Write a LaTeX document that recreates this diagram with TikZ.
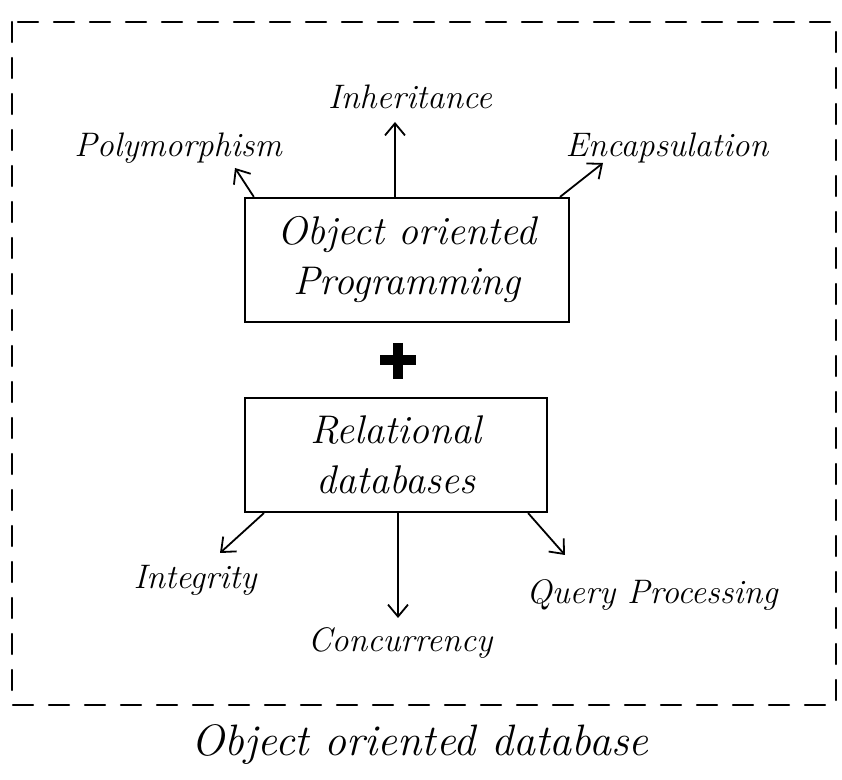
\documentclass[tikz,border=0pt]{standalone}
\usepackage{tikz}
\usetikzlibrary{arrows.meta}

\tikzset{
  box/.style={draw, line width=1.3pt, align=center, inner sep=6pt,
    font=\fontsize{20}{25}\selectfont\itshape},
  feature/.style={font=\fontsize{17}{20}\selectfont\itshape, inner sep=2pt},
  link/.style={->, line width=.9pt},
}

\begin{document}
\begin{tikzpicture}[x=.5pt, y=-.5pt, line cap=round,
  >={Straight Barb[length=6pt,width=10pt]}]
\useasboundingbox (0,0) rectangle (842,780);

% outer frame
\draw[dash pattern=on 10pt off 8pt, line width=1.2pt] (12,22) rectangle (836,705);

% the two building blocks
\node[box, minimum width=162pt, minimum height=62pt] (oop) at (407,260)
  {Object oriented\\Programming};
\node[box, minimum width=151pt, minimum height=57pt] (rdb) at (396,455)
  {Relational\\databases};

% plus sign between them
\draw[line width=5pt, line cap=butt] (380,360) -- (416,360) (398,343) -- (398,379);

% features of each side
\node[feature] (inh) at (410,97) {Inheritance};
\node[feature] (poly) at (178,148) {Polymorphism};
\node[feature] (enc) at (667,148) {Encapsulation};
\node[feature] (integ) at (195,580) {Integrity};
\node[feature] (conc) at (400,643) {Concurrency};
\node[feature] (query) at (652,595) {Query Processing};

\coordinate (inh tip) at (395,122);
\coordinate (poly tip) at (235,168);
\coordinate (enc tip) at (603,163);
\coordinate (integ tip) at (220,553);
\coordinate (conc tip) at (398,618);
\coordinate (query tip) at (565,555);

\draw[link] (inh tip |- oop.north) -- (inh tip);
\draw[link] ([xshift=5pt]oop.north west) -- (poly tip);
\draw[link] ([xshift=-5pt]oop.north east) -- (enc tip);
\draw[link] ([xshift=10pt]rdb.south west) -- (integ tip);
\draw[link] (conc tip |- rdb.south) -- (conc tip);
\draw[link] ([xshift=-10pt]rdb.south east) -- (query tip);

% caption
\node[font=\fontsize{22}{26}\selectfont\itshape] (caption) at (420,745)
  {Object oriented database};

\end{tikzpicture}
\end{document}
